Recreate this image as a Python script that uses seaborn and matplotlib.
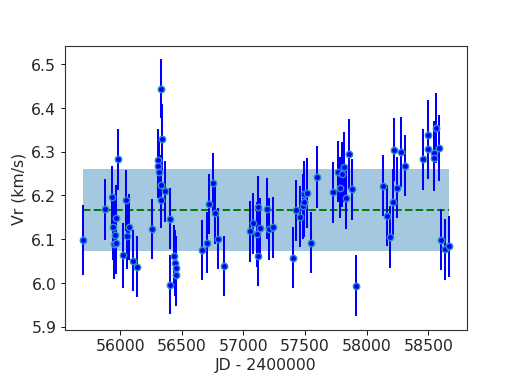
import numpy as np
import pandas as pd
import matplotlib
matplotlib.use("Agg")
import matplotlib.pyplot as plt
import seaborn as sns

jd = [55699, 55875, 55935, 55938, 55951, 55958, 55962, 55965, 55983, 56024,
      56044, 56052, 56073, 56105, 56136, 56260, 56304, 56306, 56318, 56328,
      56331, 56334, 56336, 56361, 56402, 56404, 56437, 56441, 56451, 56453,
      56667, 56702, 56721, 56756, 56772, 56790, 56840, 57055, 57079, 57109,
      57117, 57118, 57138, 57195, 57209, 57236, 57399, 57426, 57456, 57480,
      57488, 57490, 57516, 57551, 57597, 57727, 57770, 57786, 57800, 57813,
      57832, 57854, 57882, 57911, 58131, 58169, 58193, 58215, 58220, 58250,
      58280, 58310, 58459, 58500, 58502, 58544, 58546, 58565, 58586, 58600,
      58633, 58667]
vr = [6.098, 6.168, 6.197, 6.128, 6.088, 6.109, 6.149, 6.092, 6.283, 6.063,
      6.189, 6.107, 6.128, 6.051, 6.037, 6.123, 6.281, 6.268, 6.254, 6.444,
      6.223, 6.190, 6.328, 6.209, 6.147, 5.996, 6.062, 6.046, 6.035, 6.017,
      6.075, 6.092, 6.180, 6.229, 6.160, 6.101, 6.038, 6.118, 6.136, 6.111,
      6.174, 6.062, 6.125, 6.170, 6.123, 6.127, 6.058, 6.166, 6.151, 6.175,
      6.186, 6.203, 6.206, 6.092, 6.242, 6.207, 6.254, 6.218, 6.248, 6.265,
      6.193, 6.294, 6.214, 5.994, 6.222, 6.154, 6.105, 6.185, 6.305, 6.218,
      6.300, 6.268, 6.283, 6.307, 6.338, 6.296, 6.285, 6.354, 6.309, 6.099,
      6.077, 6.084]
err = [0.080, 0.069, 0.070, 0.075, 0.080, 0.078, 0.075, 0.072, 0.070, 0.075,
       0.070, 0.075, 0.075, 0.070, 0.070, 0.068, 0.070, 0.075, 0.070, 0.067,
       0.070, 0.065, 0.080, 0.070, 0.070, 0.068, 0.070, 0.075, 0.072, 0.070,
       0.069, 0.069, 0.069, 0.068, 0.070, 0.070, 0.069, 0.070, 0.070, 0.075,
       0.070, 0.070, 0.070, 0.070, 0.070, 0.070, 0.069, 0.070, 0.070, 0.075,
       0.080, 0.075, 0.080, 0.070, 0.070, 0.070, 0.070, 0.070, 0.075, 0.080,
       0.070, 0.080, 0.070, 0.069, 0.070, 0.070, 0.070, 0.075, 0.071, 0.070,
       0.080, 0.070, 0.070, 0.070, 0.080, 0.075, 0.075, 0.080, 0.075, 0.070,
       0.070, 0.070]
mean_vr = 6.166
std_vr = 0.094

df = pd.DataFrame({"jd": jd, "vr": vr, "err": err})

sns.set_style("ticks")
plt.rcParams["font.family"] = ["DejaVu Sans"]
plt.rcParams["font.size"] = 14

fig, ax = plt.subplots(figsize=(6.4, 4.8), dpi=81)
fig.subplots_adjust(left=0.125, right=0.9, top=0.88, bottom=0.15)

x0, x1 = df["jd"].min(), df["jd"].max()
ax.fill_between([x0, x1], mean_vr - std_vr, mean_vr + std_vr,
                color="#1f77b4", alpha=0.4, linewidth=0, zorder=1)
ax.plot([x0, x1], [mean_vr, mean_vr], "--", color="green", lw=1.8, zorder=2)

ax.errorbar(df["jd"], df["vr"], yerr=df["err"], fmt="none", ecolor="blue",
            elinewidth=1.8, zorder=3)
sns.scatterplot(data=df, x="jd", y="vr", ax=ax, color="blue", s=32,
                edgecolor="#2a8fc4", linewidth=1.3, zorder=4)

ax.set_xlim(55550, 58811)
ax.set_ylim(5.893, 6.542)
ax.set_xticks([56000, 56500, 57000, 57500, 58000, 58500])
ax.set_yticks([5.9, 6.0, 6.1, 6.2, 6.3, 6.4, 6.5])
ax.set_yticklabels(["5.9", "6.0", "6.1", "6.2", "6.3", "6.4", "6.5"])
ax.tick_params(labelsize=14, direction="out", length=4, color="black")
ax.set_xlabel("JD - 2400000", fontsize=14)
ax.set_ylabel("Vr (km/s)", fontsize=14)
for s in ax.spines.values():
    s.set_color("#333333")
    s.set_linewidth(1.0)

fig.savefig("out.png", dpi=81)
